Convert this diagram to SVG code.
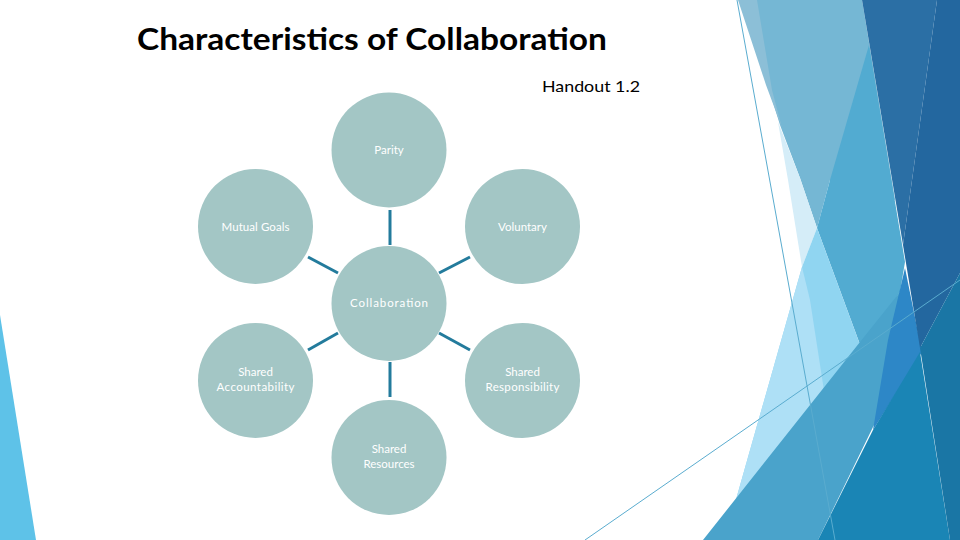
<svg xmlns="http://www.w3.org/2000/svg" width="960" height="540" viewBox="0 0 960 540">
<style>
.node circle{fill:#a3c6c5}
.lbl{font-family:Lato,"Open Sans","DejaVu Sans",sans-serif;font-size:11.5px;fill:#ffffff;text-anchor:middle}
.conn line{stroke:#237b9c;stroke-width:3}
.thin{stroke:#5aaccf;stroke-width:1;fill:none}
</style>
<rect width="960" height="540" fill="#ffffff"/>
<g id="background">
<polygon points="0,315 0,540 36,540" fill="#5ec2e8"/>
<polygon points="740,0 862,0 895,200 830,180 817,228 800,178 780,125 760,60" fill="#75b7d4"/>
<polygon points="738,0 757,0 772,90 782,128 766,85" fill="#8cbfd7"/>
<polygon points="778,122 800,178 817,228 802,267 788,180" fill="#d5edf8"/>
<polygon points="869,45 905,262 900,292 862,350 817,228 830,180" fill="#52abd1"/>
<polygon points="817,228 862,350 735,503 802,267" fill="#90d5f1"/>
<polygon points="802,267 810,300 825,397 735,503" fill="#aee0f6"/>
<polygon points="703,540 860,342 900,292 918,345 873,427 818,540" fill="#4aa3cb"/>
<polygon points="905,268 922,352 873,430 888,340" fill="#2d87c7"/>
<polygon points="818,540 873,430 920,352 950,540" fill="#1a85b5"/>
<polygon points="862,0 937,0 903,245" fill="#2b6fa5"/>
<polygon points="937,0 960,0 960,273 920,348 903,245" fill="#23679f"/>
<polygon points="920,348 960,273 960,540 950,540" fill="#1a76a5"/>
<line class="thin" x1="737" y1="0" x2="835" y2="540"/>
<line class="thin" x1="585" y1="540" x2="960" y2="280"/>
</g>
<g id="title">
<text x="137" y="50" font-family="Lato,'Open Sans','DejaVu Sans',sans-serif" font-size="31" font-weight="bold" fill="#000000" textLength="470" lengthAdjust="spacingAndGlyphs">Characteristics of Collaboration</text>
<text x="542" y="92" font-family="Lato,'Open Sans','DejaVu Sans',sans-serif" font-size="16" fill="#000000" textLength="98" lengthAdjust="spacingAndGlyphs">Handout 1.2</text>
</g>
<g id="connectors" class="conn">
<line x1="390" y1="210" x2="390" y2="245"/>
<line x1="308" y1="257" x2="338" y2="273"/>
<line x1="470" y1="257" x2="439" y2="273"/>
<line x1="338" y1="333" x2="308" y2="350"/>
<line x1="439" y1="333" x2="470" y2="350"/>
<line x1="390" y1="362" x2="390" y2="397"/>
</g>
<g id="parity" class="node"><circle cx="389" cy="150" r="57.5"/><text class="lbl" x="389" y="154">Parity</text></g>
<g id="mutual-goals" class="node"><circle cx="255.5" cy="226.5" r="57.5"/><text class="lbl" x="255.5" y="231" textLength="68">Mutual Goals</text></g>
<g id="voluntary" class="node"><circle cx="522.5" cy="226.5" r="57.5"/><text class="lbl" x="522.5" y="231">Voluntary</text></g>
<g id="collaboration" class="node"><circle cx="389" cy="303.5" r="57.5"/><text class="lbl" x="389" y="307" textLength="78">Collaboration</text></g>
<g id="shared-accountability" class="node"><circle cx="255.5" cy="380.5" r="57.5"/><text class="lbl" x="255.5" y="376">Shared</text><text class="lbl" x="255.5" y="391" textLength="78">Accountability</text></g>
<g id="shared-responsibility" class="node"><circle cx="522.5" cy="380.5" r="57.5"/><text class="lbl" x="522.5" y="376">Shared</text><text class="lbl" x="522.5" y="391" textLength="74">Responsibility</text></g>
<g id="shared-resources" class="node"><circle cx="389" cy="457.5" r="57.5"/><text class="lbl" x="389" y="453">Shared</text><text class="lbl" x="389" y="468">Resources</text></g>
</svg>
